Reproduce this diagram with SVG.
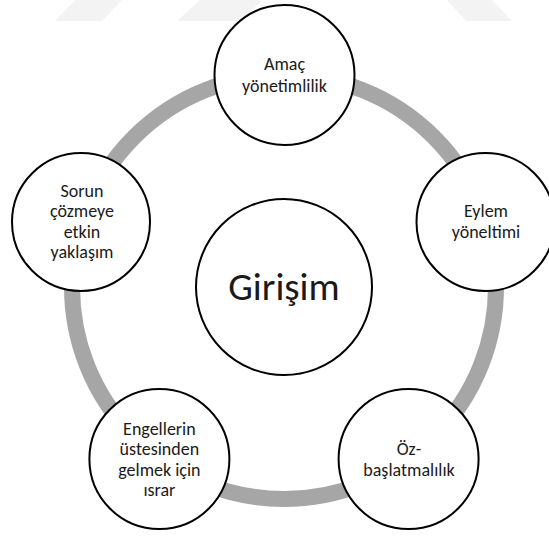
<svg xmlns="http://www.w3.org/2000/svg" width="549" height="536" viewBox="0 0 549 536">
<style>
.node{fill:#ffffff;stroke:#000000;stroke-width:2}
.t{font-family:Carlito,Lato,"Liberation Sans",sans-serif;font-size:18px;fill:#1a1a1a;text-anchor:middle}
.big{font-size:39px}
.wm{fill:#f3f3f3}
</style>
<rect width="549" height="536" fill="#ffffff"/>
<g id="watermark">
<polygon class="wm" points="75,0 122,0 102,21 55,21"/>
<polygon class="wm" points="200,0 262,0 242,21 177,21"/>
<polygon class="wm" points="447,0 492,0 512,21 466,21"/>
</g>
<g id="connectors">
<circle cx="284" cy="287" r="212" fill="none" stroke="#a6a6a6" stroke-width="16"/>
</g>
<g id="center">
<circle class="node" cx="284" cy="287" r="88"/>
<text class="t big" x="284" y="300">Girişim</text>
</g>
<g id="n1">
<circle class="node" cx="284.5" cy="75" r="70"/>
<text class="t" x="284.5" y="70">Amaç</text>
<text class="t" x="284.5" y="91.5">yönetimlilik</text>
</g>
<g id="n2">
<circle class="node" cx="485.5" cy="222" r="69"/>
<text class="t" x="486" y="216.5">Eylem</text>
<text class="t" x="486" y="238">yöneltimi</text>
</g>
<g id="n3">
<circle class="node" cx="408.6" cy="459" r="70"/>
<text class="t" x="409" y="455">Öz-</text>
<text class="t" x="409" y="476">başlatmalılık</text>
</g>
<g id="n4">
<circle class="node" cx="159.4" cy="459" r="70"/>
<text class="t" x="159.4" y="434.5">Engellerin</text>
<text class="t" x="159.4" y="455">üstesinden</text>
<text class="t" x="159.4" y="475.5">gelmek için</text>
<text class="t" x="159.4" y="496">ısrar</text>
</g>
<g id="n5">
<circle class="node" cx="81" cy="222" r="69"/>
<text class="t" x="82" y="196.5">Sorun</text>
<text class="t" x="82" y="217">çözmeye</text>
<text class="t" x="82" y="237.5">etkin</text>
<text class="t" x="82" y="258">yaklaşım</text>
</g>
</svg>
